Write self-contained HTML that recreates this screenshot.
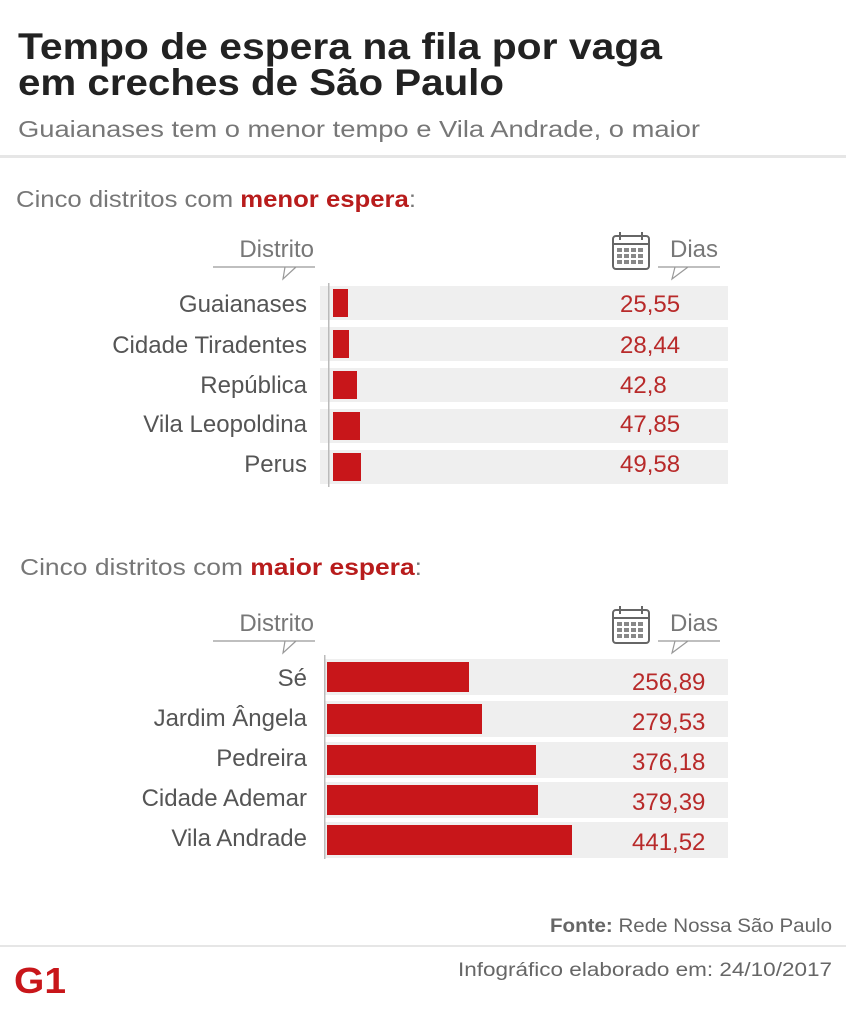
<!DOCTYPE html>
<html><head><meta charset="utf-8"><style>
body{margin:0;background:#fff}
svg{display:block;font-family:"Liberation Sans",sans-serif}
</style></head><body>
<svg width="846" height="1024" viewBox="0 0 846 1024">
<rect width="846" height="1024" fill="#fff"/>
<text x="18" y="59" font-size="37" font-weight="bold" fill="#222" textLength="644" lengthAdjust="spacingAndGlyphs">Tempo de espera na fila por vaga</text>
<text x="18" y="95" font-size="37" font-weight="bold" fill="#222" textLength="486" lengthAdjust="spacingAndGlyphs">em creches de São Paulo</text>
<text x="18" y="137" font-size="23" fill="#777" textLength="682" lengthAdjust="spacingAndGlyphs">Guaianases tem o menor tempo e Vila Andrade, o maior</text>
<rect x="0" y="155" width="846" height="3" fill="#e6e6e6"/>
<text x="16" y="207" font-size="23" fill="#777" textLength="400" lengthAdjust="spacingAndGlyphs">Cinco distritos com <tspan font-weight="bold" fill="#b81c1c">menor espera</tspan>:</text>
<text x="20" y="575" font-size="23" fill="#777" textLength="402" lengthAdjust="spacingAndGlyphs">Cinco distritos com <tspan font-weight="bold" fill="#b81c1c">maior espera</tspan>:</text>

<g id="top">
<text x="314" y="257" font-size="24" fill="#777" text-anchor="end">Distrito</text>
<path d="M213 267H315M296 267L283 279L285 267" stroke="#999" fill="none" stroke-width="1.2"/>
<g stroke="#666" fill="none" stroke-width="2"><rect x="613" y="236" width="36" height="33" rx="3"/><line x1="620" y1="232" x2="620" y2="240"/><line x1="642" y1="232" x2="642" y2="240"/><line x1="613" y1="244" x2="649" y2="244"/></g>
<g fill="#888"><rect x="617" y="248" width="5" height="4"/><rect x="624" y="248" width="5" height="4"/><rect x="631" y="248" width="5" height="4"/><rect x="638" y="248" width="5" height="4"/><rect x="617" y="254" width="5" height="4"/><rect x="624" y="254" width="5" height="4"/><rect x="631" y="254" width="5" height="4"/><rect x="638" y="254" width="5" height="4"/><rect x="617" y="260" width="5" height="4"/><rect x="624" y="260" width="5" height="4"/><rect x="631" y="260" width="5" height="4"/><rect x="638" y="260" width="5" height="4"/></g>
<text x="718" y="257" font-size="24" fill="#777" text-anchor="end">Dias</text>
<path d="M658 267H720M688 267L672 279L675 267" stroke="#999" fill="none" stroke-width="1.2"/>
<g fill="#efefef"><rect x="320" y="286" width="408" height="34"/><rect x="320" y="327" width="408" height="34"/><rect x="320" y="368" width="408" height="34"/><rect x="320" y="409" width="408" height="34"/><rect x="320" y="450" width="408" height="34"/></g>
<rect x="328" y="283" width="1.5" height="204" fill="#bbb"/>
<g fill="#c8161a"><rect x="333" y="289" width="15" height="28"/><rect x="333" y="330" width="16" height="28"/><rect x="333" y="371" width="24" height="28"/><rect x="333" y="412" width="27" height="28"/><rect x="333" y="453" width="28" height="28"/></g>
<g font-size="24" fill="#555" text-anchor="end"><text x="307" y="312">Guaianases</text><text x="307" y="353">Cidade Tiradentes</text><text x="307" y="393">República</text><text x="307" y="432">Vila Leopoldina</text><text x="307" y="472">Perus</text></g>
<g font-size="24" fill="#b82a2a"><text x="620" y="312">25,55</text><text x="620" y="353">28,44</text><text x="620" y="393">42,8</text><text x="620" y="432">47,85</text><text x="620" y="472">49,58</text></g>
</g>

<g transform="translate(0,374)">
<text x="314" y="257" font-size="24" fill="#777" text-anchor="end">Distrito</text>
<path d="M213 267H315M296 267L283 279L285 267" stroke="#999" fill="none" stroke-width="1.2"/>
<g stroke="#666" fill="none" stroke-width="2"><rect x="613" y="236" width="36" height="33" rx="3"/><line x1="620" y1="232" x2="620" y2="240"/><line x1="642" y1="232" x2="642" y2="240"/><line x1="613" y1="244" x2="649" y2="244"/></g>
<g fill="#888"><rect x="617" y="248" width="5" height="4"/><rect x="624" y="248" width="5" height="4"/><rect x="631" y="248" width="5" height="4"/><rect x="638" y="248" width="5" height="4"/><rect x="617" y="254" width="5" height="4"/><rect x="624" y="254" width="5" height="4"/><rect x="631" y="254" width="5" height="4"/><rect x="638" y="254" width="5" height="4"/><rect x="617" y="260" width="5" height="4"/><rect x="624" y="260" width="5" height="4"/><rect x="631" y="260" width="5" height="4"/><rect x="638" y="260" width="5" height="4"/></g>
<text x="718" y="257" font-size="24" fill="#777" text-anchor="end">Dias</text>
<path d="M658 267H720M688 267L672 279L675 267" stroke="#999" fill="none" stroke-width="1.2"/>
</g>
<g fill="#efefef"><rect x="325" y="659" width="403" height="36"/><rect x="325" y="701" width="403" height="36"/><rect x="325" y="742" width="403" height="36"/><rect x="325" y="782" width="403" height="36"/><rect x="325" y="822" width="403" height="36"/></g>
<rect x="324" y="655" width="1.5" height="204" fill="#bbb"/>
<g fill="#c8161a"><rect x="327" y="662" width="142" height="30"/><rect x="327" y="704" width="155" height="30"/><rect x="327" y="745" width="209" height="30"/><rect x="327" y="785" width="211" height="30"/><rect x="327" y="825" width="245" height="30"/></g>
<g font-size="24" fill="#555" text-anchor="end"><text x="307" y="686">Sé</text><text x="307" y="726">Jardim Ângela</text><text x="307" y="766">Pedreira</text><text x="307" y="806">Cidade Ademar</text><text x="307" y="846">Vila Andrade</text></g>
<g font-size="24" fill="#b82a2a"><text x="632" y="690">256,89</text><text x="632" y="730">279,53</text><text x="632" y="770">376,18</text><text x="632" y="810">379,39</text><text x="632" y="850">441,52</text></g>

<text x="832" y="932" font-size="19" fill="#666" text-anchor="end" textLength="282" lengthAdjust="spacingAndGlyphs"><tspan font-weight="bold">Fonte:</tspan> Rede Nossa São Paulo</text>
<rect x="0" y="945" width="846" height="2" fill="#e6e6e6"/>
<text x="832" y="976" font-size="19" fill="#666" text-anchor="end" textLength="374" lengthAdjust="spacingAndGlyphs">Infográfico elaborado em: 24/10/2017</text>
<text x="14" y="993" font-size="36" font-weight="bold" fill="#c8161a" textLength="52" lengthAdjust="spacingAndGlyphs">G1</text>
</svg>
</body></html>
